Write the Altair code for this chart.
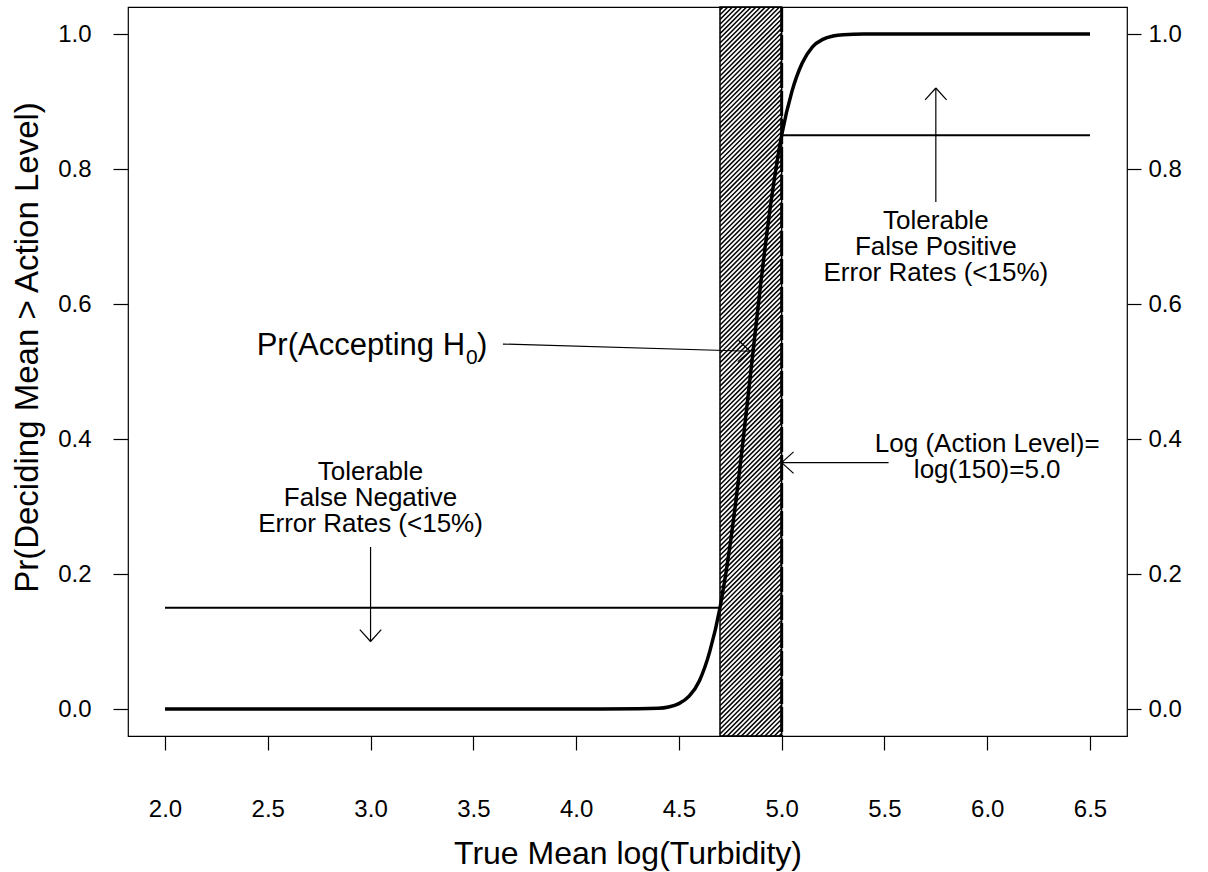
import altair as alt
import pandas as pd
import numpy as np

# ---- data ----
x_mean = [2.0, 3.0, 4.0, 4.3, 4.4, 4.45, 4.5, 4.55, 4.6, 4.65, 4.7, 4.75, 4.8, 4.85,
          4.9, 4.95, 5.0, 5.05, 5.1, 5.15, 5.2, 5.25, 5.3, 5.4, 5.5, 6.0, 6.5]
p_reject = [0.0, 0.0, 0.0, 0.0003, 0.001, 0.003, 0.008, 0.019, 0.042, 0.085, 0.15, 0.245,
            0.365, 0.50, 0.635, 0.755, 0.85, 0.915, 0.957, 0.981, 0.992, 0.997, 0.999,
            1.0, 1.0, 1.0, 1.0]

fn_level = 0.15
fp_level = 0.85
gray_lo, gray_hi = 4.7, 5.0
action_level = 5.0
x_start, x_end = 2.0, 6.5

x_ticks = [2.0, 2.5, 3.0, 3.5, 4.0, 4.5, 5.0, 5.5, 6.0, 6.5]
y_ticks = [0.0, 0.2, 0.4, 0.6, 0.8, 1.0]

# annotations: text, x, y (first line baseline)
ann_text = ["Tolerable\nFalse Negative\nError Rates (<15%)",
            "Tolerable\nFalse Positive\nError Rates (<15%)",
            "Log (Action Level)=\nlog(150)=5.0"]
ann_x = [3.0, 5.75, 6.0]
ann_y = [0.3398, 0.7107, 0.3813]

# arrows: start -> tip
arr_x0 = [3.0, 5.75, 5.52, 3.644]
arr_y0 = [0.24, 0.751, 0.365, 0.5407]
arr_x1 = [3.0, 5.75, 5.0, 4.846]
arr_y1 = [0.10, 0.92, 0.365, 0.530]

# ---- geometry of the plot ----
XMIN, XMAX = 1.82, 6.68
YMIN, YMAX = -0.04, 1.04
W, H = 999, 729
kx = W / (XMAX - XMIN)
ky = H / (YMAX - YMIN)
FONT = "Liberation Sans"
X_TITLE = "True Mean log(Turbidity)"

xs = alt.Scale(domain=[XMIN, XMAX], nice=False, zero=False)
ys = alt.Scale(domain=[YMIN, YMAX], nice=False, zero=False)

x_axis = alt.Axis(values=x_ticks, format=".1f", domain=False, grid=False,
                  tickSize=14, tickWidth=1.2, tickColor="black",
                  labelFontSize=24, labelColor="black", labelFont=FONT,
                  labelBaseline="alphabetic", labelPadding=66, labelFlush=False,
                  titleFontSize=32, titleFontWeight="normal", titleColor="black",
                  titleFont=FONT, titleBaseline="alphabetic", titleY=127)
y_left = alt.Axis(values=y_ticks, format=".1f", domain=False, grid=False,
                  tickSize=15, tickWidth=1.2, tickColor="black",
                  labelFontSize=24, labelColor="black", labelFont=FONT,
                  labelPadding=22, labelFlush=False,
                  titleFontSize=33, titleFontWeight="normal", titleColor="black",
                  titleFont=FONT, titleBaseline="alphabetic", titleX=-91, titleY=340)
y_right = alt.Axis(orient="right", values=y_ticks, format=".1f", domain=False, grid=False,
                   tickSize=14, tickWidth=1.2, tickColor="black",
                   labelFontSize=24, labelColor="black", labelFont=FONT,
                   labelPadding=7, labelFlush=False, title=None)


def X(field):
    return alt.X(field, scale=xs, axis=x_axis, title=X_TITLE)


# ---- hatch lines for the grey region (45 degrees on screen) ----
spacing_px = 4.7
dy_data = (gray_hi - gray_lo) * kx / ky
starts = np.arange(YMIN - dy_data - 0.01, YMAX + 0.01, spacing_px / ky)
hatch = pd.DataFrame({"x": gray_lo, "x2": gray_hi, "y": starts, "y2": starts + dy_data})

hatch_layer = alt.Chart(hatch).mark_rule(color="black", strokeWidth=1.5, clip=True).encode(
    x=X("x:Q"), x2="x2:Q",
    y=alt.Y("y:Q", scale=ys, axis=None), y2="y2:Q")

rect_df = pd.DataFrame({"a": [gray_lo], "b": [gray_hi], "lo": [YMIN], "hi": [YMAX]})
rect_layer = alt.Chart(rect_df).mark_rect(
    fillOpacity=0, stroke="black", strokeWidth=1.5).encode(
    x=X("a:Q"), x2="b:Q",
    y=alt.Y("lo:Q", scale=ys, axis=None), y2="hi:Q")

action_layer = alt.Chart(pd.DataFrame({"a": [action_level]})).mark_rule(
    color="black", strokeWidth=3, strokeDash=[25, 3]).encode(x=X("a:Q"))

hl = pd.DataFrame({"x": [x_start, action_level], "x2": [gray_lo, x_end],
                   "y": [fn_level, fp_level]})
fn_layer = alt.Chart(hl.iloc[[0]]).mark_rule(color="black", strokeWidth=2).encode(
    x=X("x:Q"), x2="x2:Q", y=alt.Y("y:Q", scale=ys, axis=None))
fp_layer = alt.Chart(hl.iloc[[1]]).mark_rule(color="black", strokeWidth=2).encode(
    x=X("x:Q"), x2="x2:Q", y=alt.Y("y:Q", scale=ys, axis=y_right))

curve = alt.Chart(pd.DataFrame({"x": x_mean, "p": p_reject})).mark_line(
    color="black", strokeWidth=3.5, interpolate="monotone").encode(
    x=X("x:Q"),
    y=alt.Y("p:Q", scale=ys, axis=y_left, title="Pr(Deciding Mean > Action Level)"))

# arrows: shafts and open heads
segs = []
head_len, head_ang = 16.0, np.deg2rad(42)
for x0, y0, x1, y1 in zip(arr_x0, arr_y0, arr_x1, arr_y1):
    segs.append((x0, y0, x1, y1))
    px0, py0 = (x0 - XMIN) * kx, (YMAX - y0) * ky
    px1, py1 = (x1 - XMIN) * kx, (YMAX - y1) * ky
    d = np.array([px0 - px1, py0 - py1])
    d = d / np.linalg.norm(d)
    for s in (1, -1):
        c, sn = np.cos(s * head_ang), np.sin(s * head_ang)
        r = np.array([c * d[0] - sn * d[1], sn * d[0] + c * d[1]]) * head_len
        hx, hy = px1 + r[0], py1 + r[1]
        segs.append((x1, y1, XMIN + hx / kx, YMAX - hy / ky))
arrows = pd.DataFrame(segs, columns=["x", "y", "x2", "y2"])
arrow_layer = alt.Chart(arrows).mark_rule(color="black", strokeWidth=1.2).encode(
    x=X("x:Q"), x2="x2:Q",
    y=alt.Y("y:Q", scale=ys, axis=None), y2="y2:Q")

ann = pd.DataFrame({"t": ann_text, "x": ann_x, "y": ann_y})
text_layer = alt.Chart(ann).mark_text(
    font=FONT, fontSize=26, lineHeight=26, align="center", baseline="alphabetic",
    lineBreak="\n", color="black").encode(
    x=X("x:Q"), y=alt.Y("y:Q", scale=ys, axis=None), text="t:N")

pr_x, pr_y = 3.46, 0.525
pr_df = pd.DataFrame({"x": [pr_x], "y": [pr_y]})
pr_main = alt.Chart(pr_df).mark_text(font=FONT, fontSize=31, align="right",
                                     baseline="alphabetic", color="black",
                                     text="Pr(Accepting H").encode(
    x=X("x:Q"), y=alt.Y("y:Q", scale=ys, axis=None))
pr_sub = alt.Chart(pr_df).mark_text(font=FONT, fontSize=21, align="left",
                                    baseline="alphabetic", color="black",
                                    text="0", dx=1, dy=9).encode(
    x=X("x:Q"), y=alt.Y("y:Q", scale=ys, axis=None))
pr_par = alt.Chart(pr_df).mark_text(font=FONT, fontSize=31, align="left",
                                    baseline="alphabetic", color="black",
                                    text=")", dx=12).encode(
    x=X("x:Q"), y=alt.Y("y:Q", scale=ys, axis=None))

chart = alt.layer(
    hatch_layer, rect_layer, action_layer, fn_layer, fp_layer, curve,
    arrow_layer, text_layer, pr_main, pr_sub, pr_par
).resolve_axis(y="independent").properties(
    width=W, height=H,
    autosize=alt.AutoSizeParams(type="none"),
    padding={"left": 128, "top": 7, "right": 81, "bottom": 136},
    background="white"
).configure_view(stroke="black", strokeWidth=1.2)

chart.save("out.html", embed_options={"renderer": "svg", "actions": False})
